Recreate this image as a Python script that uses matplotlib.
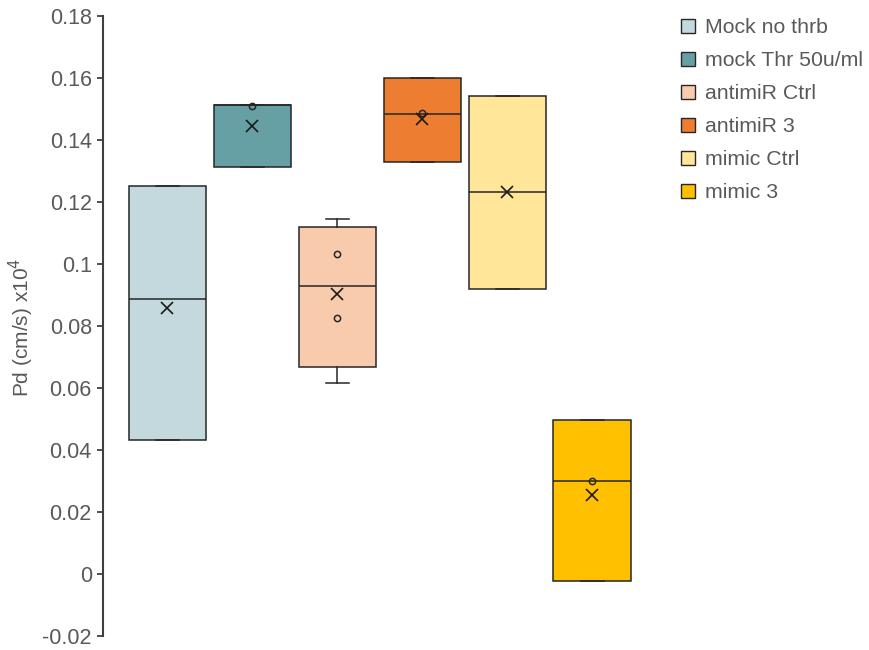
import matplotlib.pyplot as plt
import numpy as np

plt.rcParams['font.family'] = ['Liberation Sans', 'DejaVu Sans']

# data
groups = ["Mock no thrb", "mock Thr 50u/ml", "antimiR Ctrl", "antimiR 3", "mimic Ctrl", "mimic 3"]
colors = ["#C4D9DD", "#669FA4", "#F8CBAD", "#ED7D31", "#FFE699", "#FFC000"]
q1 = [0.0432, 0.1312, 0.0669, 0.1329, 0.0918, -0.0021]
med = [0.0888, 0.1513, 0.0929, 0.1485, 0.1231, 0.0300]
q3 = [0.1253, 0.1513, 0.1119, 0.1600, 0.1543, 0.0496]
whislo = [0.0432, 0.1312, 0.0615, 0.1329, 0.0918, -0.0021]
whishi = [0.1253, 0.1513, 0.1146, 0.1600, 0.1543, 0.0496]
means = [0.0859, 0.1445, 0.0903, 0.1468, 0.1231, 0.0256]
# inner points shown inside the boxes
inner_pts = [[], [0.1510], [0.1033, 0.0826], [0.1487], [], [0.0300]]

yticks = [-0.02, 0, 0.02, 0.04, 0.06, 0.08, 0.1, 0.12, 0.14, 0.16, 0.18]
ytick_labels = ["-0.02", "0", "0.02", "0.04", "0.06", "0.08", "0.1", "0.12", "0.14", "0.16", "0.18"]

fig = plt.figure(figsize=(8.69, 6.5), dpi=100)
ax = fig.add_axes([0.1185, 0.0215, 0.637, 0.954])

stats = []
for i, g in enumerate(groups):
    stats.append(dict(label=g, q1=q1[i], med=med[i], q3=q3[i],
                      whislo=whislo[i], whishi=whishi[i], mean=means[i], fliers=[]))

pos = np.arange(len(groups))
bp = ax.bxp(stats, positions=pos, widths=0.91, patch_artist=True, showmeans=True,
            showfliers=False, capwidths=0.27,
            boxprops=dict(edgecolor="#262626", linewidth=1.1),
            medianprops=dict(color="#262626", linewidth=1.1),
            whiskerprops=dict(color="#262626", linewidth=1.1),
            capprops=dict(color="#262626", linewidth=1.1),
            meanprops=dict(marker="x", markeredgecolor="#1a1a1a", markersize=9, markeredgewidth=1.2))
for patch, c in zip(bp["boxes"], colors):
    patch.set_facecolor(c)

for i, pts in enumerate(inner_pts):
    if pts:
        ax.plot([pos[i]] * len(pts), pts, linestyle="none", marker="o", markersize=4.5,
                markerfacecolor="none", markeredgecolor="#262626", markeredgewidth=1.1)

ax.set_xlim(-0.759, 5.759)
ax.set_ylim(-0.02, 0.18)
ax.set_yticks(yticks)
ax.set_yticklabels(ytick_labels)
ax.set_xticks([])
for s in ["top", "right", "bottom"]:
    ax.spines[s].set_visible(False)
ax.spines["left"].set_color("#404040")
ax.spines["left"].set_linewidth(1.5)
ax.tick_params(axis="y", colors="#404040", labelcolor="#595959", labelsize=15.5,
               length=4, width=1.3, pad=4)
fig.text(21 / 869, 1 - 327 / 650, "Pd (cm/s) x10$^4$", rotation=90, ha="center", va="center",
         color="#595959", fontsize=15)

handles = [plt.Rectangle((0, 0), 1, 1, facecolor=c, edgecolor="#262626", linewidth=1.0) for c in colors]
leg = fig.legend(handles, groups, loc="upper left", bbox_to_anchor=(0.784, 0.972),
                 frameon=False, fontsize=15.3, handlelength=0.65, handleheight=0.65,
                 handletextpad=0.45, labelspacing=0.66, labelcolor="#595959",
                 borderpad=0, borderaxespad=0)

fig.savefig("out.png", dpi=100)
